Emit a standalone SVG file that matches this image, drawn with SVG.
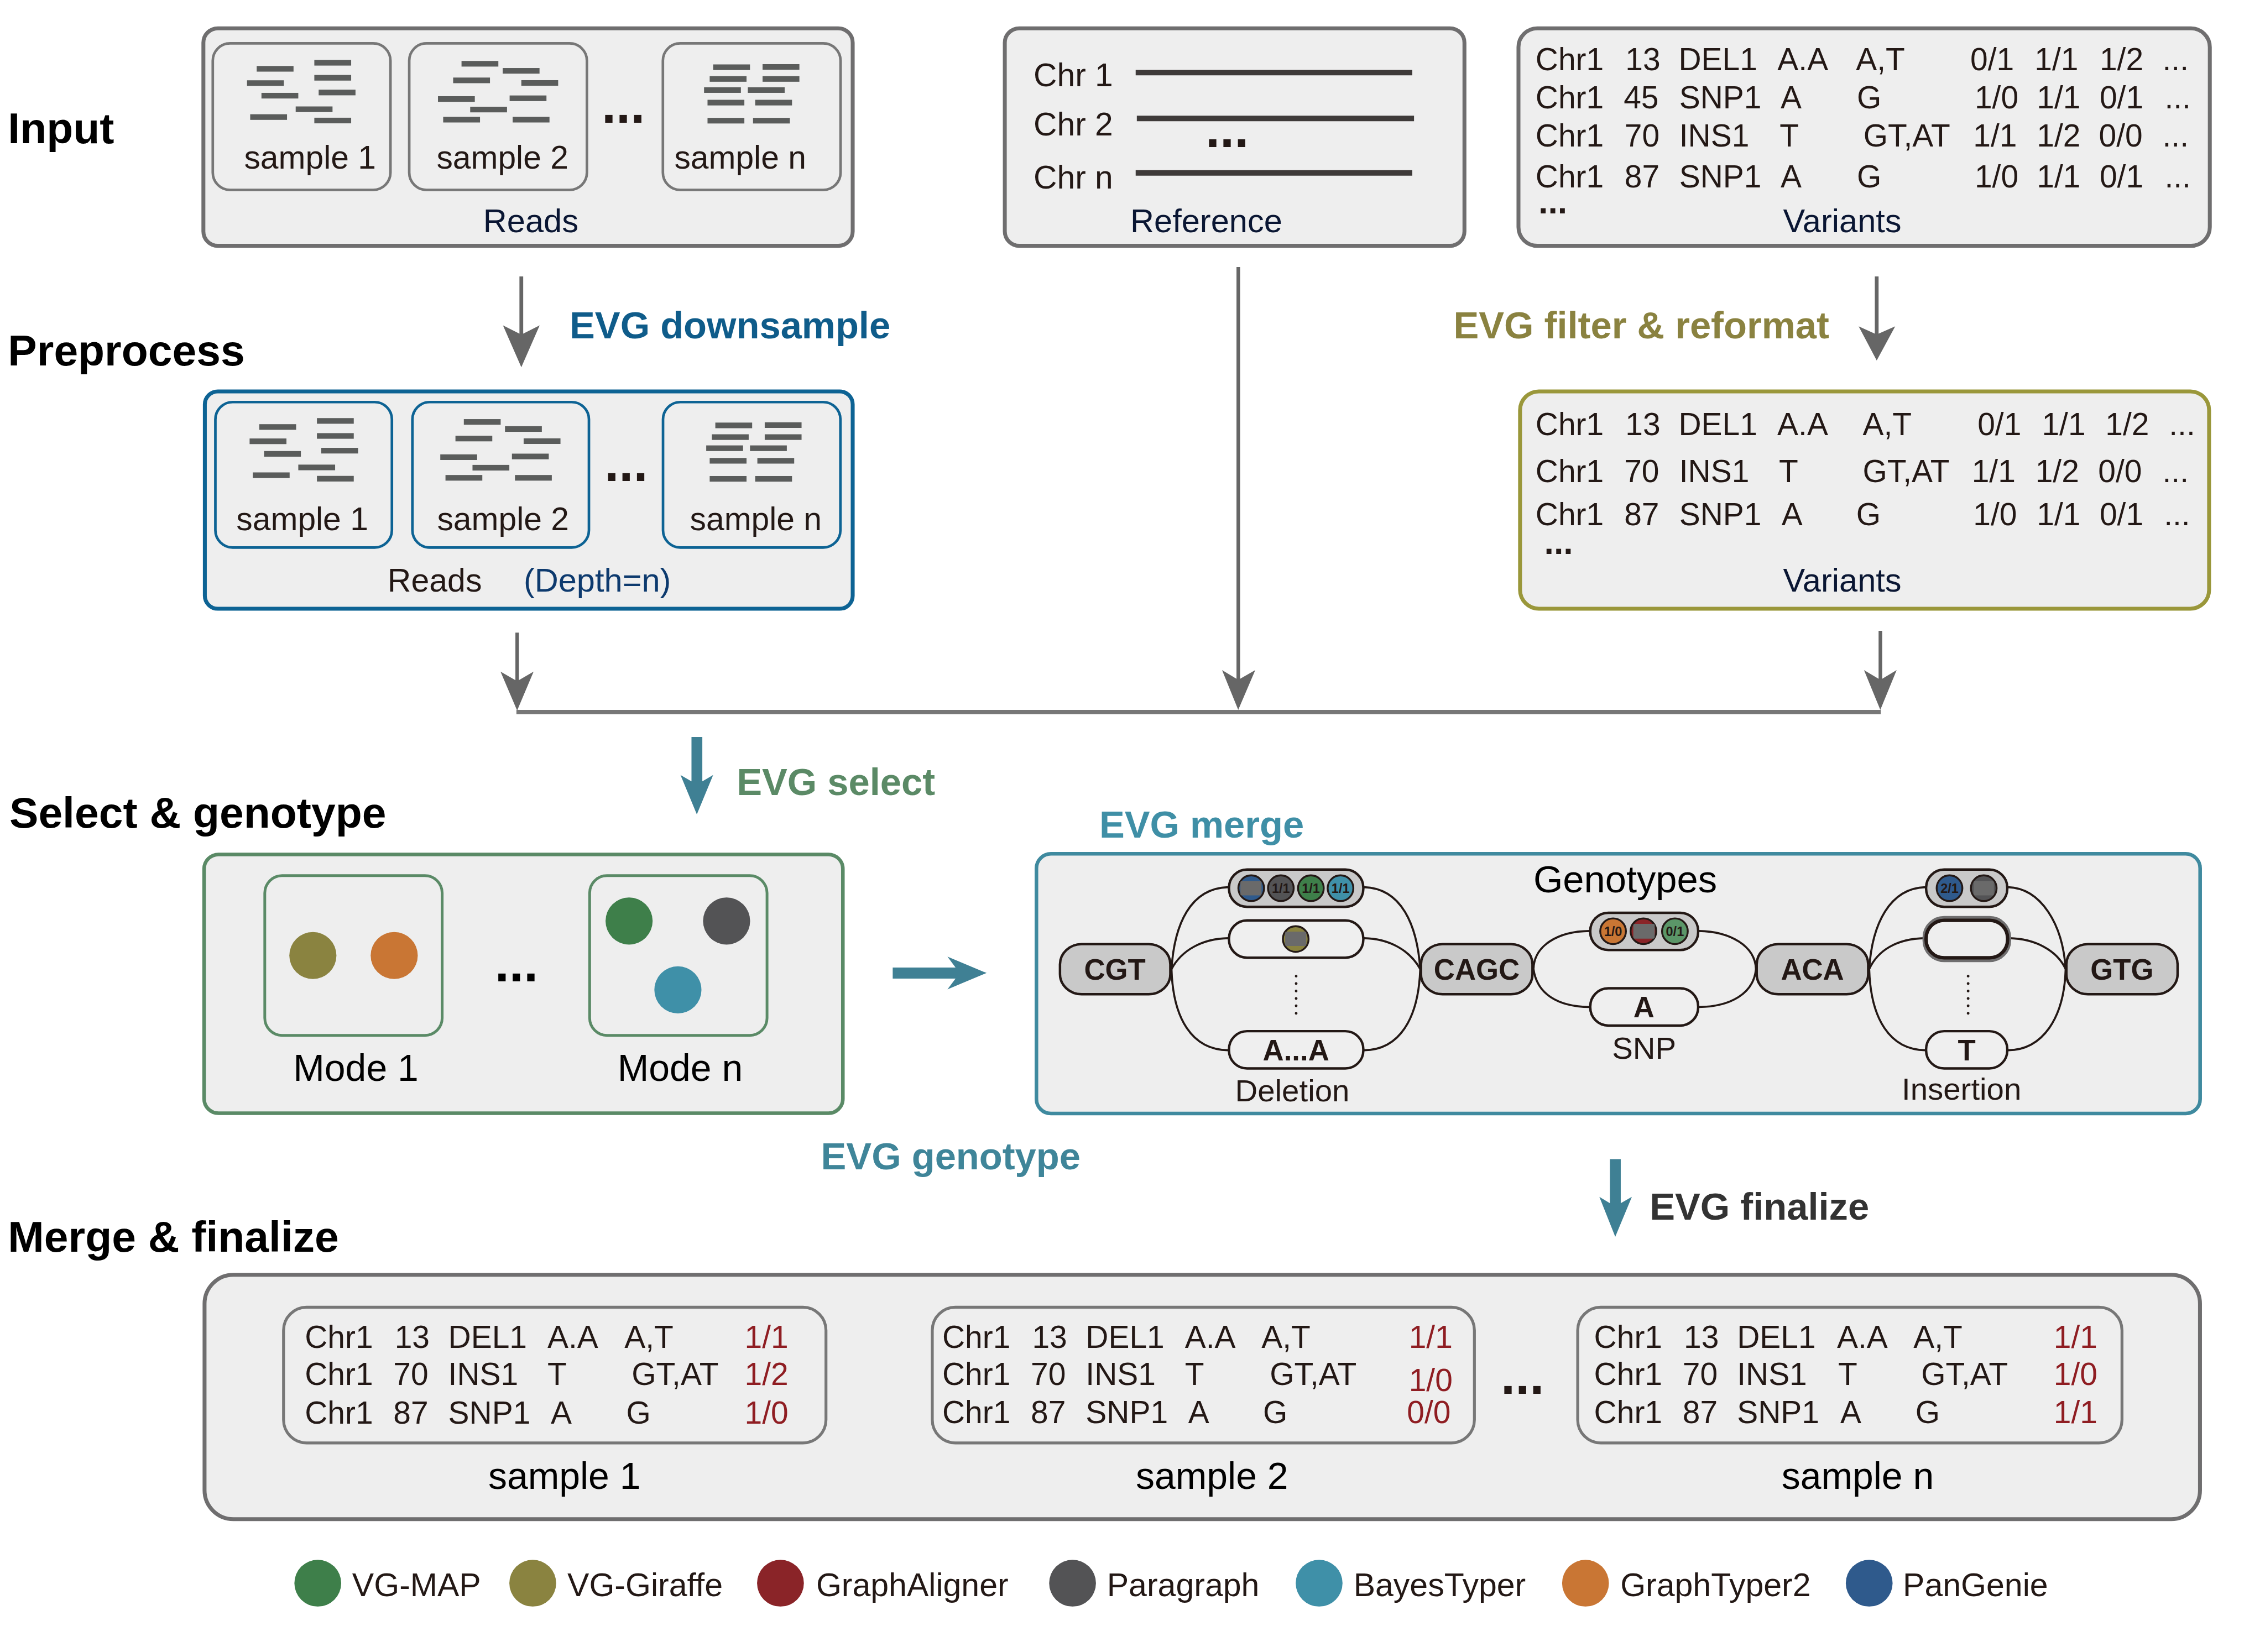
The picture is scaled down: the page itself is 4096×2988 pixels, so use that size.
<svg xmlns="http://www.w3.org/2000/svg" width="4096" height="2988" viewBox="0 0 4096 2988">
<style>
text{font-family:"Liberation Sans",Arial,sans-serif;fill:#231815;font-size:21.8px;white-space:pre}
.h{font-weight:700;font-size:30.1px;fill:#000}
.e{font-weight:700;font-size:26.3px}
.nv{font-size:22.8px;fill:#0a1633}
.s{font-size:22.5px}
.d{font-weight:700;font-size:36px}
.m{font-size:26px;fill:#000}
.lg{font-size:22.6px}
.b{font-weight:700;font-size:20.2px;text-anchor:middle}
.g{font-weight:700;font-size:9px;text-anchor:middle}
.lab{font-size:21.6px}
.red{fill:#8f1d22}
.box{fill:#eee;stroke-width:2.7}
.gy{stroke:#6f6e6f}
.in{fill:#eee;stroke:#777;stroke-width:1.8}
.bl{stroke:#0d6394}
.inb{fill:#eee;stroke:#0d6394;stroke-width:1.8}
.gn{stroke:#5a8a66}
.read{fill:#5a5c5b}
.ar{fill:#666}
.ta{fill:#3f8094}
.edge{fill:none;stroke:#231815;stroke-width:1.4}
.node{fill:#c9c9c9;stroke:#231815;stroke-width:1.7}
.pill{fill:#c9c9c9;stroke:#231815;stroke-width:1.7}
.alt{fill:#efefef;stroke:#231815;stroke-width:1.7}
.dot{stroke:#231815;stroke-width:1.9;stroke-linecap:round;stroke-dasharray:0 5.14;fill:none}
.c{stroke:#231815;stroke-width:1.3}
.smear{fill:#6a6a6a}
.chr{stroke:#3e3a39;stroke-width:3.8}
</style>
<defs>
<g id="reads1">
<rect class="read" x="177.7" y="45.7" width="25.5" height="3.9"/><rect class="read" x="217.6" y="41.5" width="25.5" height="3.9"/><rect class="read" x="171" y="55.6" width="25.5" height="3.9"/><rect class="read" x="217.6" y="51.9" width="25.5" height="3.9"/><rect class="read" x="181" y="64.3" width="25.5" height="3.9"/><rect class="read" x="220.6" y="62.1" width="25.5" height="3.9"/><rect class="read" x="204.7" y="73.7" width="25.5" height="3.9"/><rect class="read" x="173.2" y="79.1" width="25.5" height="3.9"/><rect class="read" x="217.6" y="81.5" width="25.5" height="3.9"/>
</g>
<g id="reads2">
<rect class="read" x="319.5" y="42.2" width="25.5" height="3.9"/><rect class="read" x="348" y="47.1" width="25.5" height="3.9"/><rect class="read" x="313.7" y="53.7" width="25.5" height="3.9"/><rect class="read" x="360.9" y="55.5" width="25.5" height="3.9"/><rect class="read" x="303.2" y="66.6" width="25.5" height="3.9"/><rect class="read" x="352.8" y="66.1" width="25.5" height="3.9"/><rect class="read" x="325.5" y="73.9" width="25.5" height="3.9"/><rect class="read" x="306.8" y="80.9" width="25.5" height="3.9"/><rect class="read" x="354.9" y="80.9" width="25.5" height="3.9"/>
</g>
<g id="readsn">
<rect class="read" x="493.7" y="44.6" width="25.5" height="3.9"/><rect class="read" x="527.9" y="44.4" width="25.5" height="3.9"/><rect class="read" x="491.3" y="52.7" width="25.5" height="3.9"/><rect class="read" x="527.9" y="52.7" width="25.5" height="3.9"/><rect class="read" x="487.4" y="60.4" width="25.5" height="3.9"/><rect class="read" x="517.7" y="60.4" width="25.5" height="3.9"/><rect class="read" x="489.8" y="69.1" width="25.5" height="3.9"/><rect class="read" x="522.8" y="69.1" width="25.5" height="3.9"/><rect class="read" x="489.8" y="81.6" width="25.5" height="3.9"/><rect class="read" x="521.3" y="81.6" width="25.5" height="3.9"/>
</g>
</defs>
<g transform="scale(2.61224)">
<rect width="1568" height="1144" fill="#fff"/>

<g id="stage-labels">
<text class="h" x="5.5" y="99">Input</text>
<text class="h" x="5.5" y="253.2">Preprocess</text>
<text class="h" x="6.5" y="573">Select &amp; genotype</text>
<text class="h" x="5.5" y="866.5">Merge &amp; finalize</text>
</g>

<g id="connectors">
<path class="ar" d="M359.6 191.4H362.2V231L373.6 225.3L360.9 254.3L348.2 225.3L359.6 231Z"/>
<path class="ar" d="M1297.9 191.4H1300.5V231L1312 226L1299.2 249.6L1286.7 226L1297.9 231Z"/>
<path class="ar" d="M856 184.9H858.5V470L869 464L857.2 491.5L846 464L856 470Z"/>
<path class="ar" d="M356.8 438H359.2V471L369.4 465L358 492L346.5 465L356.8 471Z"/>
<path class="ar" d="M1300.5 436.8H1303V470L1313 464L1301.7 491.5L1290.4 464L1300.5 470Z"/>
<line x1="357.5" y1="493" x2="1302" y2="493" stroke="#777" stroke-width="3"/>
<path class="ta" d="M478.7 510.3H486.2V541L493.7 536.6L482.4 563.9L471.1 536.6L478.7 541Z"/>
<path class="ta" d="M618 669.9H661.5L655.9 662.4L683 673.7L655.9 685L661.5 677.6H618Z"/>
<path class="ta" d="M1114.5 802.6H1122V833.1L1129.7 828.7L1118.2 856.4L1107.2 828.7L1114.5 833.1Z"/>
</g>

<g id="op-labels">
<text class="e" x="394.3" y="234.1" style="fill:#0f5c8a">EVG downsample</text>
<text class="e" x="1006.2" y="234.1" style="fill:#8a8240">EVG filter &amp; reformat</text>
<text class="e" x="510" y="550.4" style="fill:#5b8a66">EVG select</text>
<text class="e" x="761" y="580" style="fill:#3f8fa6">EVG merge</text>
<text class="e" x="568.3" y="809.6" style="fill:#3f8599">EVG genotype</text>
<text class="e" x="1142" y="844.5" style="fill:#333">EVG finalize</text>
</g>

<g id="input-reads">
<rect class="box gy" x="140.8" y="19.6" width="449.5" height="150.6" rx="10"/>
<rect class="in" x="147.3" y="30" width="123" height="101.5" rx="12"/>
<rect class="in" x="283.3" y="30" width="123" height="101.5" rx="12"/>
<rect class="in" x="458.9" y="30" width="123" height="101.5" rx="12"/>
<use href="#reads1"/><use href="#reads2"/><use href="#readsn"/>
<text class="s" x="169" y="116.9">sample 1</text>
<text class="s" x="302.2" y="116.9">sample 2</text>
<text class="s" x="466.8" y="116.9">sample n</text>
<text class="d" x="416.5" y="85">...</text>
<text class="nv" x="334.5" y="160.8">Reads</text>
</g>

<g id="input-reference">
<rect class="box gy" x="695.6" y="19.6" width="318.2" height="150.6" rx="10"/>
<text class="s" x="715.5" y="59.8">Chr 1</text>
<text class="s" x="715.5" y="93.9">Chr 2</text>
<text class="s" x="715.5" y="130.4">Chr n</text>
<line class="chr" x1="786.2" y1="50.3" x2="977.7" y2="50.3"/>
<line class="chr" x1="787" y1="82" x2="978.9" y2="82"/>
<line class="chr" x1="786.2" y1="119.7" x2="977.7" y2="119.7"/>
<text class="d" x="834.5" y="102">...</text>
<text class="nv" x="782.5" y="160.8">Reference</text>
</g>

<g id="input-variants">
<rect class="box gy" x="1051.2" y="19.6" width="478.6" height="150.6" rx="13"/>
<text y="48.7"><tspan x="1063">Chr1</tspan><tspan x="1125.2">13</tspan><tspan x="1162">DEL1</tspan><tspan x="1230.5">A.A</tspan><tspan x="1284.8">A,T</tspan><tspan x="1364">0/1</tspan><tspan x="1408.5">1/1</tspan><tspan x="1453.5">1/2</tspan><tspan x="1497">...</tspan></text>
<text y="75.1"><tspan x="1063">Chr1</tspan><tspan x="1124">45</tspan><tspan x="1162.5">SNP1</tspan><tspan x="1232.7">A</tspan><tspan x="1285.5">G</tspan><tspan x="1367">1/0</tspan><tspan x="1410">1/1</tspan><tspan x="1453.5">0/1</tspan><tspan x="1498.5">...</tspan></text>
<text y="101.6"><tspan x="1063">Chr1</tspan><tspan x="1124.6">70</tspan><tspan x="1162.5">INS1</tspan><tspan x="1232">T</tspan><tspan x="1290">GT,AT</tspan><tspan x="1366">1/1</tspan><tspan x="1410">1/2</tspan><tspan x="1453">0/0</tspan><tspan x="1497">...</tspan></text>
<text y="129.8"><tspan x="1063">Chr1</tspan><tspan x="1124.6">87</tspan><tspan x="1162.5">SNP1</tspan><tspan x="1232.7">A</tspan><tspan x="1285.5">G</tspan><tspan x="1367">1/0</tspan><tspan x="1410">1/1</tspan><tspan x="1453.5">0/1</tspan><tspan x="1498.5">...</tspan></text>
<text style="font-weight:700;font-size:24px" x="1065" y="147.7">...</text>
<text class="nv" x="1234.4" y="160.8">Variants</text>
</g>

<g id="pre-reads">
<rect class="box bl" x="141.8" y="271" width="448.5" height="150.5" rx="9"/>
<rect class="inb" x="149.1" y="278.4" width="122.2" height="100.7" rx="12"/>
<rect class="inb" x="285.5" y="278.4" width="122.2" height="100.7" rx="12"/>
<rect class="inb" x="459" y="278.4" width="122.8" height="100.7" rx="12"/>
<use href="#reads1" transform="translate(1.8 248)"/><use href="#reads2" transform="translate(1.6 248)"/><use href="#readsn" transform="translate(1.5 248)"/>
<text class="s" x="163.6" y="367">sample 1</text>
<text class="s" x="302.6" y="367">sample 2</text>
<text class="s" x="477.6" y="367">sample n</text>
<text class="d" x="418.5" y="333">...</text>
<text x="268.3" y="409.6" style="font-size:22.6px">Reads</text>
<text x="362.5" y="409.6" style="font-size:22.8px;fill:#0d3a6e">(Depth=n)</text>
</g>

<g id="pre-variants">
<rect class="box" stroke="#9a973a" x="1052.3" y="271" width="477" height="150.5" rx="13"/>
<text y="301.4"><tspan x="1063">Chr1</tspan><tspan x="1125.2">13</tspan><tspan x="1162">DEL1</tspan><tspan x="1230.4">A.A</tspan><tspan x="1289.5">A,T</tspan><tspan x="1369">0/1</tspan><tspan x="1413.5">1/1</tspan><tspan x="1457.5">1/2</tspan><tspan x="1501.5">...</tspan></text>
<text y="334"><tspan x="1063">Chr1</tspan><tspan x="1124.4">70</tspan><tspan x="1162.5">INS1</tspan><tspan x="1231.5">T</tspan><tspan x="1289.5">GT,AT</tspan><tspan x="1365">1/1</tspan><tspan x="1409">1/2</tspan><tspan x="1452.5">0/0</tspan><tspan x="1497">...</tspan></text>
<text y="363.7"><tspan x="1063">Chr1</tspan><tspan x="1124.4">87</tspan><tspan x="1162.5">SNP1</tspan><tspan x="1233.3">A</tspan><tspan x="1285">G</tspan><tspan x="1366">1/0</tspan><tspan x="1410">1/1</tspan><tspan x="1453.5">0/1</tspan><tspan x="1498">...</tspan></text>
<text style="font-weight:700;font-size:24px" x="1069" y="383.5">...</text>
<text class="nv" x="1234.4" y="409.6">Variants</text>
</g>

<g id="select-modes">
<rect class="box gn" x="141.3" y="591.6" width="442.2" height="179.2" rx="10" style="stroke-width:2.5"/>
<rect class="in" style="stroke:#5a8a66;stroke-width:1.9" x="183.3" y="606.3" width="122.8" height="110.6" rx="12"/>
<rect class="in" style="stroke:#5a8a66;stroke-width:1.9" x="408.2" y="606.3" width="122.8" height="110.6" rx="12"/>
<circle cx="216.6" cy="661.6" r="16.3" fill="#8a8340"/>
<circle cx="272.9" cy="661.6" r="16.3" fill="#c97634"/>
<circle cx="435.5" cy="637.7" r="16.3" fill="#3e7f4a"/>
<circle cx="503" cy="637.7" r="16.3" fill="#535355"/>
<circle cx="469.3" cy="685.4" r="16.3" fill="#3f90a8"/>
<text class="d" x="342.5" y="679.4" style="fill:#000">...</text>
<text class="m" x="203" y="748.5">Mode 1</text>
<text class="m" x="427.5" y="748.5">Mode n</text>
</g>

<g id="merge-graph">
<rect class="box" stroke="#3f8a9f" style="stroke-width:2.5" x="717.5" y="591.2" width="805.6" height="179.8" rx="10"/>
<text x="1061.5" y="617.8" style="font-size:26.3px;fill:#000">Genotypes</text>
<g id="graph-edges">
<path class="edge" d="M811 671C813 640 824 615 850.3 614.3"/>
<path class="edge" d="M811 671C818 658 832 650 850.3 649.6"/>
<path class="edge" d="M811 671C812 705 825 727 850.3 727.2"/>
<path class="edge" d="M944.2 614.3C970 615 981 640 983.2 671"/>
<path class="edge" d="M944.2 649.6C962 650 976 658 983.2 671"/>
<path class="edge" d="M944.2 727.2C969 727 982 705 983.2 671"/>
<path class="edge" d="M1061.6 671C1062 655 1078 644.8 1100.5 644.6"/>
<path class="edge" d="M1061.6 671C1064 688 1078 697 1100.5 697.3"/>
<path class="edge" d="M1176 644.6C1198 645 1215 655 1215.6 671"/>
<path class="edge" d="M1176 697.3C1198 697 1214 688 1215.6 671"/>
<path class="edge" d="M1294 671C1296 640 1308 615 1333 614.3"/>
<path class="edge" d="M1294 671C1300 658 1313 650 1332.5 649.6"/>
<path class="edge" d="M1294 671C1295 705 1308 727 1333 727.2"/>
<path class="edge" d="M1390 614.3C1413 615 1428 640 1430 671"/>
<path class="edge" d="M1390.8 649.6C1409 650 1424 658 1430 671"/>
<path class="edge" d="M1390 727.2C1414 727 1429 705 1430 671"/>
</g>
<g id="node-CGT"><rect class="node" x="733.8" y="653.7" width="76.4" height="34.7" rx="15" ry="14"/><text class="b" x="771.8" y="678.2">CGT</text></g>
<g id="node-CAGC"><rect class="node" x="983.7" y="653.7" width="77.2" height="34.7" rx="15" ry="14"/><text class="b" x="1022.3" y="678.2">CAGC</text></g>
<g id="node-ACA"><rect class="node" x="1216.1" y="653.7" width="77.2" height="34.7" rx="15" ry="14"/><text class="b" x="1254.7" y="678.2">ACA</text></g>
<g id="node-GTG"><rect class="node" x="1430.5" y="653.7" width="77" height="34.7" rx="15" ry="14"/><text class="b" x="1469" y="678.2">GTG</text></g>

<g id="del-top"><rect class="pill" x="850.8" y="602.1" width="93" height="25.8" rx="12.5"/>
<circle class="c" cx="866.2" cy="615" r="8.9" fill="#2f5a8c"/><rect class="smear" x="858.7" y="610" width="14.6" height="10" rx="1"/>
<circle class="c" cx="886.7" cy="615" r="8.9" fill="#535355"/><text class="g" x="886.7" y="618.2">1/1</text>
<circle class="c" cx="907.5" cy="615" r="8.9" fill="#3e7f4a"/><text class="g" x="907.5" y="618.2">1/1</text>
<circle class="c" cx="928" cy="615" r="8.9" fill="#3f90a8"/><text class="g" x="928" y="618.2">1/1</text></g>
<g id="del-mid"><rect class="alt" x="850.8" y="637.3" width="93" height="25.8" rx="12.5"/>
<circle class="c" cx="897" cy="650.2" r="8.9" fill="#8a8340"/><rect class="smear" x="889.7" y="645" width="14.6" height="10" rx="1"/></g>
<line class="dot" x1="897.3" y1="675.9" x2="897.3" y2="702"/>
<g id="del-bot"><rect class="alt" x="850.8" y="714" width="93" height="25.8" rx="12.5"/><text class="b" x="897.2" y="734.1">A...A</text></g>
<text class="lab" x="855" y="762.5">Deletion</text>

<g id="snp-top"><rect class="pill" x="1100.9" y="632" width="74.7" height="25.8" rx="12.5"/>
<circle class="c" cx="1116.7" cy="644.8" r="8.9" fill="#c97634"/><text class="g" x="1116.7" y="648">1/0</text>
<circle class="c" cx="1137.7" cy="644.8" r="8.9" fill="#8a2428"/><rect class="smear" x="1130.7" y="639.7" width="14.8" height="10.2" rx="1"/>
<circle class="c" cx="1159.5" cy="644.8" r="8.9" fill="#5b9668"/><text class="g" x="1159.5" y="648">0/1</text></g>
<g id="snp-bot"><rect class="alt" x="1100.9" y="684.3" width="74.7" height="25.8" rx="12.5"/><text class="b" x="1138" y="704.3">A</text></g>
<text class="lab" x="1116" y="732.9">SNP</text>

<g id="ins-top"><rect class="pill" x="1333.4" y="602.1" width="56.2" height="25.8" rx="12.5"/>
<circle class="c" cx="1349.6" cy="615" r="8.9" fill="#2f5a8c"/><text class="g" x="1349.6" y="618.2">2/1</text>
<circle class="c" cx="1373.3" cy="615" r="8.9" fill="#535355"/><rect class="smear" x="1366.3" y="610" width="14" height="10" rx="1"/></g>
<g id="ins-mid"><rect x="1332.9" y="636.2" width="57.4" height="28" rx="13" fill="#eee" stroke="#6f6e6f" stroke-width="4"/><rect x="1333.4" y="637.2" width="56.4" height="26" rx="12.5" fill="#eee" stroke="#231815" stroke-width="2.4"/></g>
<line class="dot" x1="1362.5" y1="675.9" x2="1362.5" y2="702"/>
<g id="ins-bot"><rect class="alt" x="1333.4" y="714" width="56.2" height="25.8" rx="12.5"/><text class="b" x="1361.5" y="734.1">T</text></g>
<text class="lab" x="1316.5" y="761.6">Insertion</text>
</g>

<g id="finalize">
<rect class="box gy" x="141.6" y="882.7" width="1381.4" height="169.2" rx="20"/>
<g id="final-sample1">
<rect class="in" style="stroke-width:2" x="196.3" y="905.1" width="375.5" height="94" rx="16"/>
<text y="933.4"><tspan x="211">Chr1</tspan><tspan x="273.2">13</tspan><tspan x="310.3">DEL1</tspan><tspan x="379">A.A</tspan><tspan x="432.3">A,T</tspan><tspan class="red" x="515.5">1/1</tspan></text>
<text y="959"><tspan x="211">Chr1</tspan><tspan x="272.3">70</tspan><tspan x="310.3">INS1</tspan><tspan x="379">T</tspan><tspan x="437.3">GT,AT</tspan><tspan class="red" x="515.5">1/2</tspan></text>
<text y="985.6"><tspan x="211">Chr1</tspan><tspan x="272.3">87</tspan><tspan x="310.3">SNP1</tspan><tspan x="381.3">A</tspan><tspan x="433.5">G</tspan><tspan class="red" x="515.5">1/0</tspan></text>
<text class="m" x="338" y="1031">sample 1</text>
</g>
<g id="final-sample2">
<rect class="in" style="stroke-width:2" x="645.4" y="905.1" width="375.3" height="94" rx="16"/>
<text y="933.4"><tspan x="652.3">Chr1</tspan><tspan x="714.5">13</tspan><tspan x="751.6">DEL1</tspan><tspan x="820.3">A.A</tspan><tspan x="873.3">A,T</tspan><tspan class="red" x="975.3">1/1</tspan></text>
<text y="958.8"><tspan x="652.3">Chr1</tspan><tspan x="713.6">70</tspan><tspan x="751.6">INS1</tspan><tspan x="820.3">T</tspan><tspan x="879">GT,AT</tspan></text>
<text class="red" x="975.3" y="963">1/0</text>
<text y="985.4"><tspan x="652.3">Chr1</tspan><tspan x="713.6">87</tspan><tspan x="751.6">SNP1</tspan><tspan x="822.6">A</tspan><tspan x="874.3">G</tspan><tspan class="red" x="974">0/0</tspan></text>
<text class="m" x="786.3" y="1031">sample 2</text>
</g>
<text class="d" x="1039" y="965">...</text>
<g id="final-samplen">
<rect class="in" style="stroke-width:2" x="1092.2" y="905.1" width="376.8" height="94" rx="16"/>
<text y="933.4"><tspan x="1103.5">Chr1</tspan><tspan x="1165.7">13</tspan><tspan x="1202.5">DEL1</tspan><tspan x="1271.7">A.A</tspan><tspan x="1324.6">A,T</tspan><tspan class="red" x="1421.7">1/1</tspan></text>
<text y="958.8"><tspan x="1103.5">Chr1</tspan><tspan x="1164.8">70</tspan><tspan x="1202.5">INS1</tspan><tspan x="1272.5">T</tspan><tspan x="1330">GT,AT</tspan><tspan class="red" x="1421.7">1/0</tspan></text>
<text y="985.4"><tspan x="1103.5">Chr1</tspan><tspan x="1164.8">87</tspan><tspan x="1202.5">SNP1</tspan><tspan x="1274">A</tspan><tspan x="1326">G</tspan><tspan class="red" x="1421.7">1/1</tspan></text>
<text class="m" x="1233.3" y="1031">sample n</text>
</g>
</g>

<g id="legend">
<circle cx="220" cy="1096.2" r="16.2" fill="#3e7f4a"/><text class="lg" x="243.8" y="1105">VG-MAP</text>
<circle cx="368.8" cy="1096.2" r="16.2" fill="#8a8340"/><text class="lg" x="392.8" y="1105">VG-Giraffe</text>
<circle cx="540.3" cy="1096.2" r="16.2" fill="#8a2428"/><text class="lg" x="565" y="1105">GraphAligner</text>
<circle cx="742.5" cy="1096.2" r="16.2" fill="#535355"/><text class="lg" x="766.3" y="1105">Paragraph</text>
<circle cx="913.2" cy="1096.2" r="16.2" fill="#3f90a8"/><text class="lg" x="937" y="1105">BayesTyper</text>
<circle cx="1097.6" cy="1096.2" r="16.2" fill="#c97634"/><text class="lg" x="1121.7" y="1105">GraphTyper2</text>
<circle cx="1294" cy="1096.2" r="16.2" fill="#2f5a8c"/><text class="lg" x="1317.3" y="1105">PanGenie</text>
</g>
</g>
</svg>
